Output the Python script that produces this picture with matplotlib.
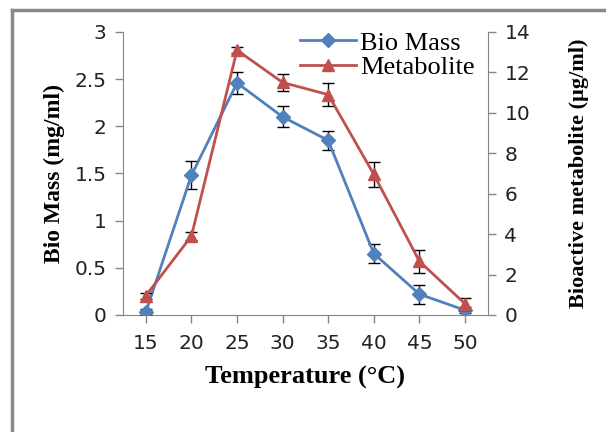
import numpy as np
import matplotlib
matplotlib.use("Agg")
import matplotlib.pyplot as plt
from matplotlib.lines import Line2D

# temperature in degrees C
temps = [15, 20, 25, 30, 35, 40, 45, 50]

# bio mass (mg/ml), left axis
biomass = [0.03, 1.48, 2.46, 2.10, 1.85, 0.65, 0.22, 0.05]
biomass_err = [0.03, 0.15, 0.12, 0.11, 0.10, 0.10, 0.10, 0.03]

# bioactive metabolite (ug/ml), right axis
metab = [0.95, 3.9, 13.1, 11.5, 10.9, 6.95, 2.65, 0.55]
metab_err = [0.15, 0.2, 0.15, 0.42, 0.58, 0.6, 0.57, 0.3]

blue = "#4F81BD"
red = "#C0504D"
tickcol = "#868686"

fig = plt.figure(figsize=(6.06, 4.32), dpi=100)
ax = fig.add_axes([0.203, 0.271, 0.602, 0.655])
ax2 = ax.twinx()

ax.errorbar(temps, biomass, yerr=biomass_err, color=blue, marker="D",
            markersize=7, lw=2, ecolor="black", elinewidth=1, capsize=4,
            capthick=1, zorder=3)
ax2.errorbar(temps, metab, yerr=metab_err, color=red, marker="^",
             markersize=9, lw=2, ecolor="black", elinewidth=1,
             capsize=4, capthick=1, zorder=3)

ax.set_xlim(12.5, 52.5)
ax.set_ylim(0, 3)
ax2.set_ylim(0, 14)
ax.set_xticks(temps)
ax.set_yticks([0, 0.5, 1, 1.5, 2, 2.5, 3])
ax.set_yticklabels(["0", "0.5", "1", "1.5", "2", "2.5", "3"])
ax2.set_yticks([0, 2, 4, 6, 8, 10, 12, 14])

for a in (ax, ax2):
    for s in a.spines.values():
        s.set_visible(False)
    a.tick_params(colors=tickcol, labelcolor="#222222", labelsize=14.5,
                  length=6, width=1)
ax.spines["left"].set_visible(True)
ax.spines["left"].set_color(tickcol)
ax.spines["bottom"].set_visible(True)
ax.spines["bottom"].set_color(tickcol)
ax2.spines["right"].set_visible(True)
ax2.spines["right"].set_color(tickcol)
ax.tick_params(axis="x", pad=8)
ax.tick_params(axis="y", pad=6)
ax2.tick_params(axis="y", pad=6)

serif = ["Liberation Serif", "DejaVu Serif"]
ax.set_xlabel("Temperature (°C)", family=serif, fontweight="bold",
              fontsize=19, labelpad=9)
ax.set_ylabel("Bio Mass (mg/ml)", family=serif, fontweight="bold",
              fontsize=17, labelpad=7)
ax2.set_ylabel("Bioactive metabolite (µg/ml)", family=serif,
               fontweight="bold", fontsize=16, labelpad=28)

handles = [Line2D([], [], color=blue, marker="D", markersize=7, lw=2),
           Line2D([], [], color=red, marker="^", markersize=9, lw=2)]
ax2.legend(handles, ["Bio Mass", "Metabolite"], loc="upper left",
           bbox_to_anchor=(0.455, 1.04), frameon=False,
           prop={"family": serif, "size": 19}, handlelength=2.15,
           handletextpad=0.15, labelspacing=0.05, borderaxespad=0)

# outer frame of the chart area
fig.add_artist(Line2D([12 / 606, 12 / 606], [0, 1 - 10 / 432],
                      transform=fig.transFigure, color="#888888", lw=2.5))
fig.add_artist(Line2D([12 / 606, 1], [1 - 10 / 432, 1 - 10 / 432],
                      transform=fig.transFigure, color="#888888", lw=2.5))

fig.savefig("out.png", dpi=100)
